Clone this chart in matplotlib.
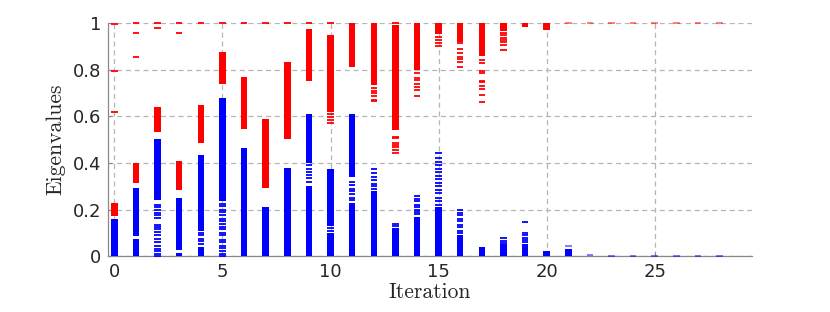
import matplotlib
matplotlib.use("Agg")
import matplotlib.pyplot as plt

# dense clusters of eigenvalues: (iteration, low, high)
red_ranges = [
    (0, 0.172, 0.227), (1, 0.315, 0.399), (2, 0.531, 0.638), (3, 0.282, 0.408),
    (4, 0.486, 0.648), (5, 0.738, 0.877), (6, 0.544, 0.770), (7, 0.293, 0.589),
    (8, 0.501, 0.834), (9, 0.752, 0.974), (10, 0.620, 0.947), (11, 0.812, 1.0),
    (12, 0.734, 1.0), (13, 0.541, 0.991), (14, 0.798, 1.0), (15, 0.955, 1.0),
    (16, 0.920, 1.0), (17, 0.860, 1.0), (18, 0.966, 1.0), (19, 0.983, 1.0),
    (20, 0.970, 1.0),
]
blue_ranges = [
    (0, 0.0, 0.159), (1, 0.0, 0.075), (1, 0.085, 0.293), (2, 0.240, 0.501),
    (3, 0.0, 0.015), (3, 0.028, 0.248), (4, 0.0, 0.040), (4, 0.110, 0.433),
    (5, 0.235, 0.679), (6, 0.0, 0.462), (7, 0.0, 0.212), (8, 0.0, 0.379),
    (9, 0.0, 0.300), (9, 0.400, 0.612), (10, 0.0, 0.100), (10, 0.130, 0.375),
    (11, 0.0, 0.230), (11, 0.340, 0.608), (12, 0.0, 0.280), (13, 0.0, 0.120),
    (14, 0.0, 0.170), (15, 0.0, 0.210), (16, 0.0, 0.090), (17, 0.0, 0.040),
    (18, 0.0, 0.050), (19, 0.0, 0.050), (20, 0.0, 0.024), (21, 0.0, 0.030),
]

# isolated eigenvalues per iteration
red_single = {
    0: [0.995, 0.794, 0.620],
    1: [1.0, 0.958, 0.855],
    2: [1.0, 0.981],
    3: [1.0, 0.958],
    4: [1.0], 5: [1.0], 6: [1.0], 7: [1.0], 8: [1.0], 9: [1.0],
    10: [1.0, 0.612, 0.598, 0.584, 0.572],
    12: [0.720, 0.710, 0.698, 0.687, 0.672, 0.665],
    13: [1.0, 0.512, 0.505, 0.486, 0.476, 0.467, 0.455, 0.441],
    14: [0.784, 0.763, 0.755, 0.738, 0.724, 0.712, 0.687],
    15: [0.941, 0.927, 0.913, 0.901],
    16: [0.913, 0.888, 0.870, 0.855, 0.844, 0.831, 0.812],
    17: [0.841, 0.827, 0.794, 0.787, 0.752, 0.747, 0.730, 0.716, 0.692, 0.661],
    18: [0.956, 0.948, 0.938, 0.927, 0.917, 0.907, 0.884],
    21: [1.0], 22: [1.0], 23: [1.0], 24: [1.0], 25: [1.0], 26: [1.0],
    27: [1.0], 28: [1.0],
}
blue_single = {
    2: [0.220, 0.210, 0.200, 0.185, 0.175, 0.165, 0.135, 0.125, 0.115, 0.105,
        0.090, 0.075, 0.060, 0.045, 0.030, 0.020, 0.010, 0.002],
    4: [0.100, 0.090, 0.075, 0.065, 0.050],
    5: [0.225, 0.215, 0.200, 0.190, 0.175, 0.160, 0.150, 0.140, 0.125, 0.115,
        0.100, 0.090, 0.070, 0.060, 0.045, 0.035, 0.020, 0.010, 0.002],
    9: [0.390, 0.375, 0.360, 0.350, 0.335, 0.320],
    10: [0.120, 0.110],
    11: [0.320, 0.305, 0.290, 0.280, 0.265, 0.250, 0.240],
    12: [0.290, 0.300, 0.310, 0.325, 0.340, 0.355, 0.372],
    13: [0.128, 0.137],
    14: [0.180, 0.190, 0.200, 0.210, 0.220, 0.235, 0.245, 0.258],
    15: [0.220, 0.235, 0.250, 0.270, 0.285, 0.300, 0.315, 0.330, 0.345, 0.360,
         0.375, 0.390, 0.405, 0.420, 0.443],
    16: [0.100, 0.110, 0.125, 0.135, 0.150, 0.160, 0.175, 0.185, 0.197],
    18: [0.058, 0.066, 0.076],
    19: [0.060, 0.070, 0.080, 0.090, 0.100, 0.146],
    21: [0.045],
    22: [0.003], 23: [0.0], 24: [0.0], 25: [0.0], 26: [0.0], 27: [0.0], 28: [0.0],
}

RED = "#ff0000"
BLUE = "#0000ff"
W = 0.3

fig = plt.figure(figsize=(8.3, 3.12), dpi=100)
ax = fig.add_axes([0.130, 0.179, 0.776, 0.747])

for ranges, col in ((red_ranges, RED), (blue_ranges, BLUE)):
    xs = [r[0] for r in ranges]
    lo = [r[1] for r in ranges]
    hi = [r[2] for r in ranges]
    ax.bar(xs, [h - l for l, h in zip(lo, hi)], bottom=lo, width=W,
           color=col, linewidth=0, zorder=3)

for singles, col in ((red_single, RED), (blue_single, BLUE)):
    for it, vals in singles.items():
        a = 0.55 if it > 20 else 1.0
        ax.hlines(vals, it - W / 2, it + W / 2, color=col, lw=1.3,
                  alpha=a, zorder=3, clip_on=False)

ax.set_xlim(-0.3, 29.5)
ax.set_ylim(0, 1)
ax.set_xticks([0, 5, 10, 15, 20, 25])
ax.set_yticks([0, 0.2, 0.4, 0.6, 0.8, 1])
ax.set_yticklabels(["0", "0.2", "0.4", "0.6", "0.8", "1"])
ax.grid(True, ls=(0, (4, 3)), color="#b5b5b5", lw=0.9, zorder=0)
ax.set_axisbelow(True)

for s in ("top", "right"):
    ax.spines[s].set_visible(False)
for s in ("left", "bottom"):
    ax.spines[s].set_color("#888888")
    ax.spines[s].set_linewidth(0.9)
ax.tick_params(direction="in", length=3, color="#888888",
               labelsize=13, labelcolor="#262626", pad=5)

ax.set_xlabel("Iteration", family="cmr10", fontsize=15.5, color="#262626",
              labelpad=1)
ax.set_ylabel("Eigenvalues", family="cmr10", fontsize=15.5, color="#262626",
              labelpad=5)

fig.savefig("out.png", dpi=100)
